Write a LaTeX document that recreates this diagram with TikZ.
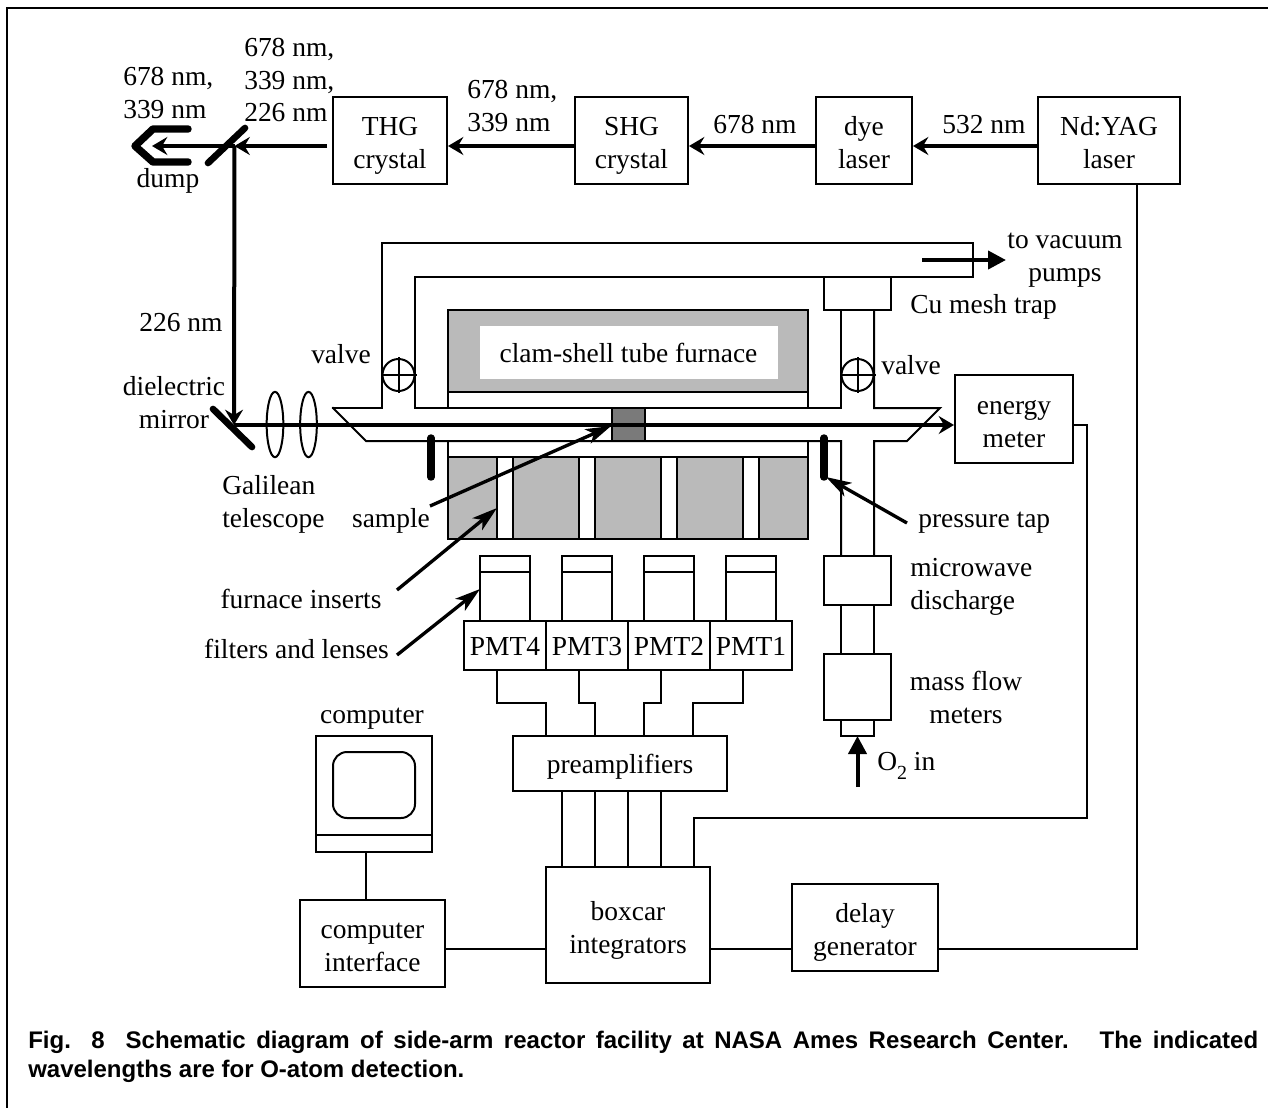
\documentclass[tikz,border=0pt]{standalone}
\usepackage{fontspec}
\setmainfont{Liberation Serif}
\newfontfamily\capfont{Liberation Sans}
\usetikzlibrary{arrows.meta,calc,shapes.geometric}
\newcommand\stt{\vrule width 0pt height .8\baselineskip depth .2\baselineskip}
\newcommand\sttm{\vrule width 0pt height .92\baselineskip depth .2\baselineskip}
\newcommand\lblfont{\fontsize{20.6}{24.5}\selectfont}
\tikzset{
  x=.75pt,y=-.75pt,
  ln/.style={line width=1.5pt,line cap=rect,line join=miter},
  thin arrow/.style={line width=3pt,-{Stealth[length=11.5pt,width=13.5pt,inset=4pt]}},
  ptr arrow/.style={line width=2.5pt,-{Stealth[length=19pt,width=11.5pt,inset=5pt]}},
  big arrow/.style={line width=3pt,-{Stealth[length=13.5pt,width=13.5pt,inset=0pt]}},
  rod/.style={line width=5.6pt,line cap=round,line join=round},
  box/.style={draw,line width=1.5pt,fill=white,inner sep=0pt,align=center,font=\lblfont,
    execute at begin node=\stt,execute at end node=\stt},
  lbl/.style={inner sep=0pt,align=center,font=\lblfont,
    execute at begin node=\stt,execute at end node=\stt},
  lbll/.style={lbl,align=left,anchor=west},
  grayfill/.style={fill=black!27},
}
\newcommand\boxn[6]{\node[box,minimum width={(#4-#2)*.75pt},minimum height={(#5-#3)*.75pt}] (#1) at ({(#2+#4)/2},{(#3+#5)/2}) {#6};}
\begin{document}
\begin{tikzpicture}
\useasboundingbox (0,0) rectangle (1268,1108);
% page frame
\coordinate (fa) at (1268,8); \coordinate (fb) at (7,8); \coordinate (fc) at (7,1108);
\draw[line width=1.6pt] (fa) -- (fb) -- (fc);

% furnace gray parts
\fill[grayfill] (448,310) rectangle (808,392);
\fill[white] (480,326) rectangle (778,379);
\fill[grayfill] (448,457) rectangle (808,539);
\foreach \a in {497,579,661,743}{
  \fill[white] (\a,457) rectangle (\a+16,539);
  \draw[ln] (\a,457) -- (\a,539) (\a+16,457) -- (\a+16,539);
}
\draw[ln] (448,408) -- (448,310) -- (808,310) -- (808,408) (448,392) -- (808,392);
\draw[ln] (448,441) -- (448,539) -- (808,539) -- (808,441) (448,457) -- (808,457);

% ducts and tube
\draw[ln] (333,408) -- (382,408) -- (382,243) -- (973,243) -- (973,277) -- (415,277) -- (415,408) -- (841,408) -- (841,310);
\draw[ln] (874,310) -- (874,408) -- (940,408) -- (907,441) -- (874,441) -- (874,556);
\draw[ln] (841,556) -- (841,441) -- (366,441) -- (333,408);
\draw[ln] (841,605) -- (841,654) (874,605) -- (874,654);
\draw[ln] (841,720) -- (841,736) -- (874,736) -- (874,720);

% sample
\node[draw,line width=1.5pt,fill=black!52,inner sep=0pt,minimum width=24.75pt,minimum height=24.75pt] (sampleblk) at (628.5,424.5) {};

% valves
\node[draw,circle,line width=1.5pt,fill=white,minimum size=24pt,inner sep=0pt] (valveL) at (398.5,375) {};
\draw[ln] (valveL.north) -- (valveL.south) (valveL.west) -- (valveL.east);
\node[draw,circle,line width=1.5pt,fill=white,minimum size=24pt,inner sep=0pt] (valveR) at (857.5,375) {};
\draw[ln] (valveR.north) -- (valveR.south) (valveR.west) -- (valveR.east);

% boxes
\boxn{thg}{333}{97}{447}{184}{\sttm THG\\crystal}
\boxn{shg}{575}{97}{688}{184}{\sttm SHG\\crystal}
\boxn{dye}{816}{97}{912}{184}{\sttm dye\\laser}
\boxn{yag}{1038}{97}{1180}{184}{\sttm Nd:YAG\\laser}
\boxn{trap}{824}{277}{891}{310}{}
\boxn{energy}{955}{375}{1073}{463}{\sttm energy\\meter}
\boxn{micro}{824}{556}{891}{605}{}
\boxn{mass}{824}{654}{891}{720}{}
\boxn{pmt4}{464}{621}{546}{670}{PMT4}
\boxn{pmt3}{546}{621}{628}{670}{PMT3}
\boxn{pmt2}{628}{621}{710}{670}{PMT2}
\boxn{pmt1}{710}{621}{792}{670}{PMT1}
\boxn{preamp}{513}{736}{727}{791}{preamplifiers}
\boxn{boxcar}{546}{867}{710}{983}{\sttm boxcar\\integrators}
\boxn{delay}{792}{884}{938}{971}{\sttm delay\\generator}
\boxn{iface}{300}{900}{445}{987}{\sttm computer\\interface}
\boxn{monitor}{316}{736}{432}{852}{}
\draw[ln] (316,835) -- (432,835);
\draw[ln,rounded corners=10.5pt] (333,752) rectangle (415,818);

% filter tubes
\foreach \a in {480,562,644,726}{
  \draw[ln] (\a,621) -- (\a,556) -- (\a+50,556) -- (\a+50,621) (\a,572) -- (\a+50,572);
}

% signal wiring
\draw[ln] (pmt4.south -| 497,0) -- (497,703) -- (546,703) -- (preamp.north -| 546,0);
\draw[ln] (pmt3.south -| 579,0) -- (579,703) -- (595,703) -- (preamp.north -| 595,0);
\draw[ln] (pmt2.south -| 661,0) -- (661,703) -- (644,703) -- (preamp.north -| 644,0);
\draw[ln] (pmt1.south -| 743,0) -- (743,703) -- (693,703) -- (preamp.north -| 693,0);
\foreach \a in {562,595,628,661}{
  \draw[ln] (preamp.south -| \a,0) -- (boxcar.north -| \a,0);
}
\draw[ln] (boxcar.north -| 694,0) -- (694,818) -- (1087,818) -- (1087,425) -- (energy.east |- 0,425);
\draw[ln] (monitor.south -| 365.5,0) -- (iface.north -| 365.5,0);
\draw[ln] (iface.east |- 0,949) -- (boxcar.west |- 0,949);
\draw[ln] (boxcar.east |- 0,949) -- (delay.west |- 0,949);
\draw[ln] (delay.east |- 0,949) -- (1137,949) -- (yag.south -| 1137,0);

% lenses
\node[draw,ellipse,line width=1.5pt,minimum width=12.5pt,minimum height=49pt,inner sep=0pt] (lens1) at (275,424.5) {};
\node[draw,ellipse,line width=1.5pt,minimum width=12.5pt,minimum height=49pt,inner sep=0pt] (lens2) at (308.5,424.5) {};

% laser beams
\coordinate (bs) at (234.5,146);
\coordinate (mir) at (234,425);
\coordinate (dumpc) at (152,146);
\draw[thin arrow] (yag.west |- 0,146) -- (dye.east |- 0,146) ;
\draw[thin arrow] (dye.west |- 0,146) -- (shg.east |- 0,146);
\draw[thin arrow] (shg.west |- 0,146) -- (thg.east |- 0,146);
\draw[thin arrow] (327,146) -- (bs);
\draw[thin arrow] (bs) -- (dumpc);
\draw[thin arrow] (bs) -- (mir);
\draw[thin arrow] (mir) -- (energy.west |- mir);
\draw[rod] (188,129) -- (153,129) -- (135,146) -- (153,162) -- (188,162);
\draw[rod,line width=5pt] (208,163) -- (245,128);
\draw[rod,line width=5pt] (213,409) -- (252,447);
\draw[rod] (431,438) -- (431,477);
\draw[rod] (824,438) -- (824,477);

% labels
\node[lbll] (l1) at (123,92.5) {\stt 678 nm,\\339 nm};
\node[lbll] (l2) at (244,79.5) {\stt 678 nm,\\339 nm,\\226 nm};
\node[lbl] (dump) at (168,178) {dump};
\node[lbll] (l3) at (467,105.5) {\stt 678 nm,\\339 nm};
\node[lbl] (l4) at (755,124) {678 nm};
\node[lbl] (l5) at (984,124) {532 nm};
\node[lbl] (l6) at (181,322) {226 nm};
\node[lbl] (l7) at (174,402) {\stt dielectric\\mirror};
\node[lbl] (l8) at (341,354) {valve};
\node[lbl] (l9) at (911,365) {valve};
\node[lbl] (l10) at (628.5,353) {clam-shell tube furnace};
\node[lbll] (l11) at (222,501) {\stt Galilean\\telescope};
\node[lbl] (samplelbl) at (391,518) {sample};
\node[lbll] (tap) at (918,518) {pressure tap};
\node[lbl] (vac) at (1065,255) {\stt to vacuum\\pumps};
\node[lbll] (cu) at (910,304) {Cu mesh trap};
\node[lbll] (mwl) at (910,583.5) {\stt microwave\\discharge};
\node[lbl] (mfl) at (966,697.5) {\stt mass flow\\meters};
\node[lbll] (o2) at (877,762) {O\raisebox{-.32em}{\fontsize{15}{15}\selectfont 2} in};
\node[lbl] (inserts) at (301,598.5) {furnace inserts};
\node[lbl] (filters) at (296.5,649) {filters and lenses};
\node[lbl] (complbl) at (372,714) {computer};

% pointer arrows
\coordinate (vs) at (922,260); \coordinate (ve) at (1006,260);
\draw[big arrow] (vs) -- (ve);
\coordinate (ps) at (907,523); \coordinate (pe) at (826,477);
\draw[ptr arrow] (ps) -- (pe);
\coordinate (ss) at (430,506);
\draw[ptr arrow] (ss) -- (sampleblk.west |- 0,426);
\coordinate (is) at (397,590); \coordinate (ie) at (497,508);
\draw[ptr arrow] (is) -- (ie);
\coordinate (fs) at (397,655); \coordinate (fe) at (480,589);
\draw[ptr arrow] (fs) -- (fe);
\coordinate (os) at (857.5,787);
\draw[big arrow] (os) -- (857.5,736);

% caption
\node[inner sep=0pt,anchor=base west,font={\capfont\bfseries\fontsize{18}{18}\selectfont}] (cap1) at (28,1048)
 {\spaceskip=.28em plus 1fil\hbox to 922.5pt{Fig. 8~ Schematic diagram of side-arm reactor facility at NASA Ames Research Center.~ The indicated}};
\node[inner sep=0pt,anchor=base west,font={\capfont\bfseries\fontsize{18}{18}\selectfont}] (cap2) at (28,1077)
 {wavelengths are for O-atom detection.};
\end{tikzpicture}
\end{document}
